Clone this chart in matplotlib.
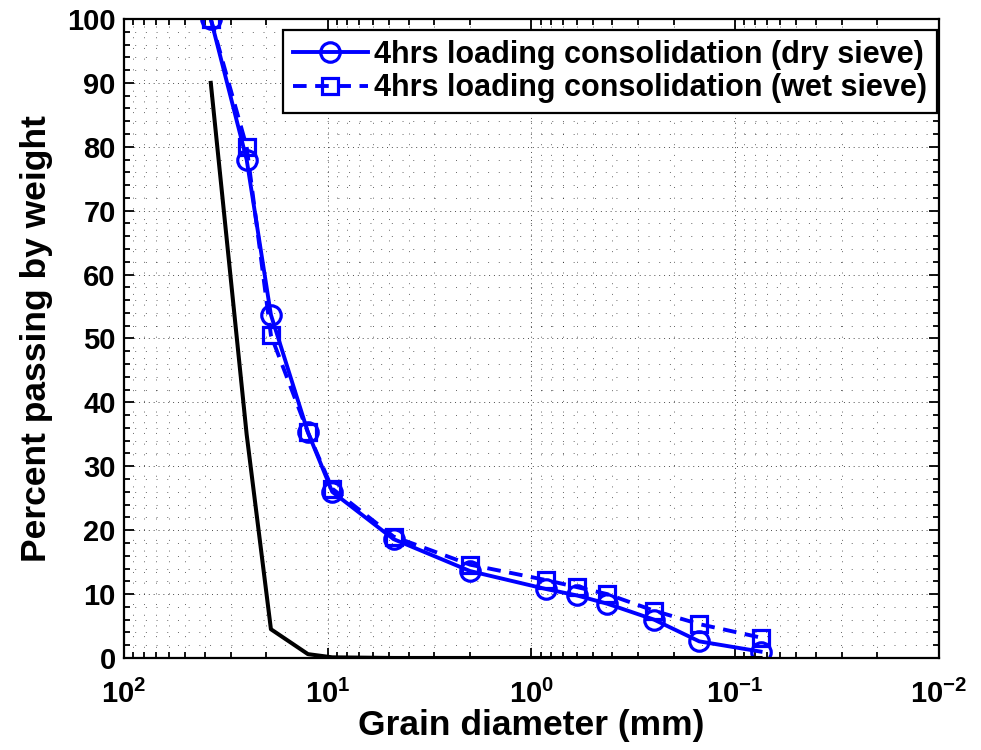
import matplotlib
matplotlib.use("Agg")
import matplotlib.pyplot as plt
from matplotlib.ticker import LogLocator, MultipleLocator, NullFormatter

plt.rcParams['font.family'] = ['Liberation Sans', 'DejaVu Sans']
plt.rcParams['font.weight'] = 'bold'
plt.rcParams['mathtext.fontset'] = 'custom'
plt.rcParams['mathtext.rm'] = 'Liberation Sans:bold'
plt.rcParams['mathtext.it'] = 'Liberation Sans:bold'
plt.rcParams['mathtext.bf'] = 'Liberation Sans:bold'
plt.rcParams['mathtext.default'] = 'rm'

# sieve sizes (mm)
sieve = [37.5, 25, 19, 12.5, 9.5, 4.75, 2.0, 0.85, 0.6, 0.425, 0.25, 0.15, 0.075]
dry = [100, 78, 53.7, 35.3, 26.0, 18.6, 13.6, 10.8, 9.8, 8.5, 6.0, 2.6, 1.0]
wet = [100, 80, 50.5, 35.3, 26.5, 19.0, 14.6, 12.2, 11.1, 10.0, 7.4, 5.3, 3.2]
limit = [90, 35, 4.5, 0.6, 0.1, 0, 0, 0, 0, 0, 0, 0, 0]

fig = plt.figure(figsize=(9.81, 7.5), dpi=100)
ax = fig.add_axes([0.1264, 0.1227, 0.8306, 0.852])

ax.plot(sieve, dry, '-o', color='blue', lw=2.8, ms=14, mfc='none', mew=2.3,
        label='4hrs loading consolidation (dry sieve)')
ax.plot(sieve, wet, 's', color='blue', lw=2.8, ms=12, mfc='none', mew=2.3,
        linestyle=(0, (3.5, 2.2)),
        label='4hrs loading consolidation (wet sieve)')
ax.plot(sieve, limit, '-', color='black', lw=2.9)

ax.set_xscale('log')
ax.set_xlim(100, 0.01)
ax.set_ylim(0, 100)
ax.yaxis.set_major_locator(MultipleLocator(10))
ax.yaxis.set_minor_locator(MultipleLocator(2))
ax.xaxis.set_major_locator(LogLocator(base=10))
ax.xaxis.set_minor_locator(LogLocator(base=10, subs=range(2, 10)))
ax.xaxis.set_minor_formatter(NullFormatter())

ax.grid(True, which='major', color='black', lw=0.7, linestyle=(0, (1, 4)), alpha=0.7)
ax.grid(True, which='minor', color='black', lw=0.7, linestyle=(0, (1, 10)), alpha=0.6)

ax.tick_params(which='both', direction='in', top=True, right=True, width=1.3,
               labelsize=21)
ax.tick_params(axis='x', which='major', pad=16)
ax.tick_params(axis='y', which='major', pad=6)
ax.tick_params(which='major', length=7)
ax.tick_params(which='minor', length=4)
for s in ax.spines.values():
    s.set_linewidth(1.6)

ax.set_xlabel('Grain diameter (mm)', fontsize=25.5, fontweight='bold', labelpad=0)
ax.set_ylabel('Percent passing by weight', fontsize=25.5, fontweight='bold', labelpad=10)

leg = ax.legend(loc='upper right', bbox_to_anchor=(0.9975, 0.983), borderaxespad=0,
                fontsize=22, handlelength=2.45, handletextpad=0.2,
                borderpad=0.32, labelspacing=0.12, fancybox=False, framealpha=1)
leg.get_frame().set_edgecolor('black')
leg.get_frame().set_linewidth(1.6)

fig.savefig('out.png', dpi=100)
